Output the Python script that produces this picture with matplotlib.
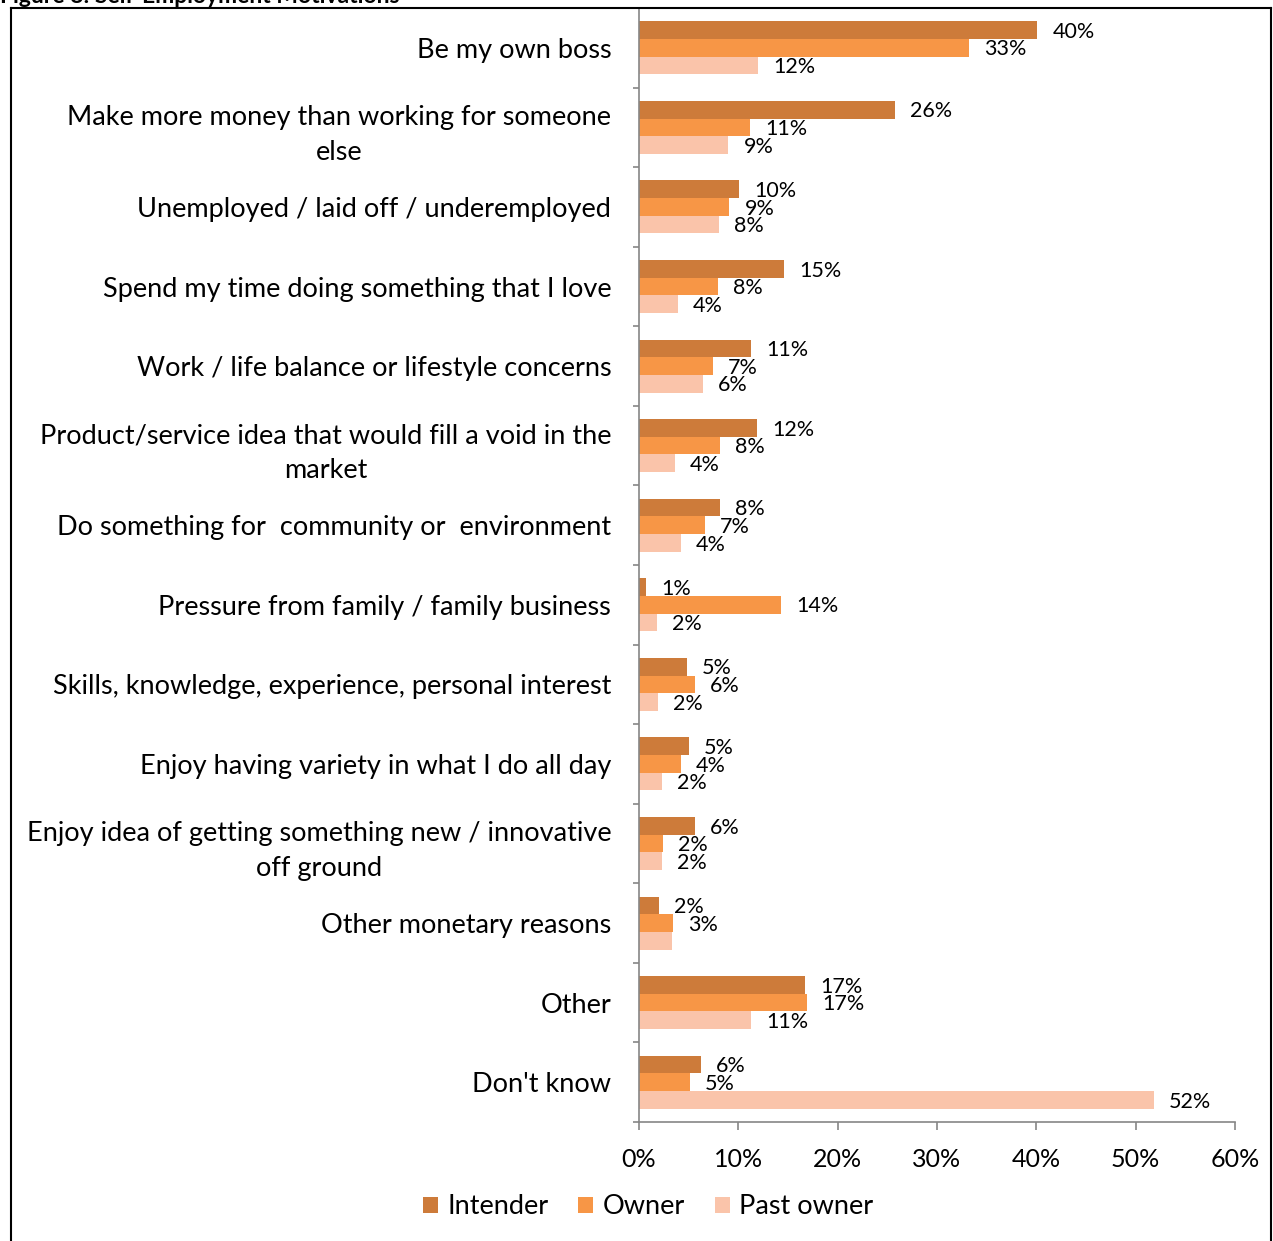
import numpy as np
import matplotlib.pyplot as plt
from matplotlib.lines import Line2D
from matplotlib.ticker import PercentFormatter

plt.rcParams['font.family'] = ['Lato', 'DejaVu Sans']

categories = [
    "Be my own boss",
    "Make more money than working for someone\nelse",
    "Unemployed / laid off / underemployed",
    "Spend my time doing something that I love",
    "Work / life balance or lifestyle concerns",
    "Product/service idea that would fill a void in the\nmarket",
    "Do something for  community or  environment",
    "Pressure from family / family business",
    "Skills, knowledge, experience, personal interest",
    "Enjoy having variety in what I do all day",
    "Enjoy idea of getting something new / innovative\noff ground",
    "Other monetary reasons",
    "Other",
    "Don't know",
]
intender = [40.1, 25.8, 10.1, 14.6, 11.3, 11.9, 8.2, 0.7, 4.8, 5.0, 5.6, 2.0, 16.7, 6.2]
owner = [33.2, 11.2, 9.1, 8.0, 7.4, 8.2, 6.6, 14.3, 5.6, 4.2, 2.4, 3.4, 16.9, 5.1]
past_owner = [12.0, 9.0, 8.1, 3.9, 6.4, 3.6, 4.2, 1.8, 1.9, 2.3, 2.3, 3.3, 11.3, 51.8]
# the past-owner bar for "Other monetary reasons" carries no value label
past_owner_labelled = [True] * 11 + [False, True, True]

series = [
    ("Intender", intender, "#CD7B3A", [True] * 14),
    ("Owner", owner, "#F79646", [True] * 14),
    ("Past owner", past_owner, "#FAC4AA", past_owner_labelled),
]

fig = plt.figure(figsize=(12.73, 12.41), dpi=100)
ax = fig.add_axes([639 / 1273, 1 - 1122 / 1241, 596 / 1273, 1114 / 1241])

y = np.arange(len(categories))
h = 0.222
for i, (name, vals, color, show) in enumerate(series):
    pos = y + (i - 1) * h
    ax.barh(pos, vals, height=h, color=color, label=name)
    for p, v, s in zip(pos, vals, show):
        if s:
            ax.annotate(f"{v:.0f}%", (v, p), xytext=(10.8, -1.2), textcoords="offset points",
                        va="center", ha="left", fontsize=15.5)

ax.set_xlim(0, 60)
ax.set_ylim(len(categories) - 0.5, -0.5)
ax.set_xticks(np.arange(0, 61, 10))
ax.xaxis.set_major_formatter(PercentFormatter(decimals=0))

ax.set_yticks(np.arange(-0.5, len(categories), 1))
ax.set_yticklabels([])
ax.set_yticks(y, categories, minor=True)
for t in ax.get_yticklabels(minor=True):
    t.set_multialignment("center")
    t.set_linespacing(1.5)

gray = "#868686"
for side in ["top", "right"]:
    ax.spines[side].set_visible(False)
for side in ["left", "bottom"]:
    ax.spines[side].set_color(gray)
    ax.spines[side].set_linewidth(1.2)
ax.tick_params(axis="x", which="major", length=6, width=1.2, color=gray, pad=13, labelsize=18)
ax.tick_params(axis="y", which="major", length=4, width=1.2, color=gray)
ax.tick_params(axis="y", which="minor", length=0, pad=20, labelsize=19.5)

fig.legend(loc="center", bbox_to_anchor=(648 / 1273, 1 - 1207 / 1241), ncol=3, frameon=False,
           fontsize=19.5, handlelength=0.55, handleheight=0.55, handletextpad=0.35,
           columnspacing=1.1)

# outer box around the figure, with the heading sitting above it
fx = lambda px: px / 1273
fy = lambda px: 1 - px / 1241
fig.add_artist(Line2D([fx(11), fx(11)], [fy(8), 0], color="black", lw=1.5))
fig.add_artist(Line2D([fx(1271), fx(1271)], [fy(8), 0], color="black", lw=1.5))
fig.add_artist(Line2D([fx(11), fx(1271)], [fy(8), fy(8)], color="black", lw=1.5))
fig.text(0, fy(3), "Figure 8: Self-Employment Motivations", fontsize=16.5, fontweight="bold",
         va="baseline", ha="left")

fig.savefig("out.png", dpi=100)
